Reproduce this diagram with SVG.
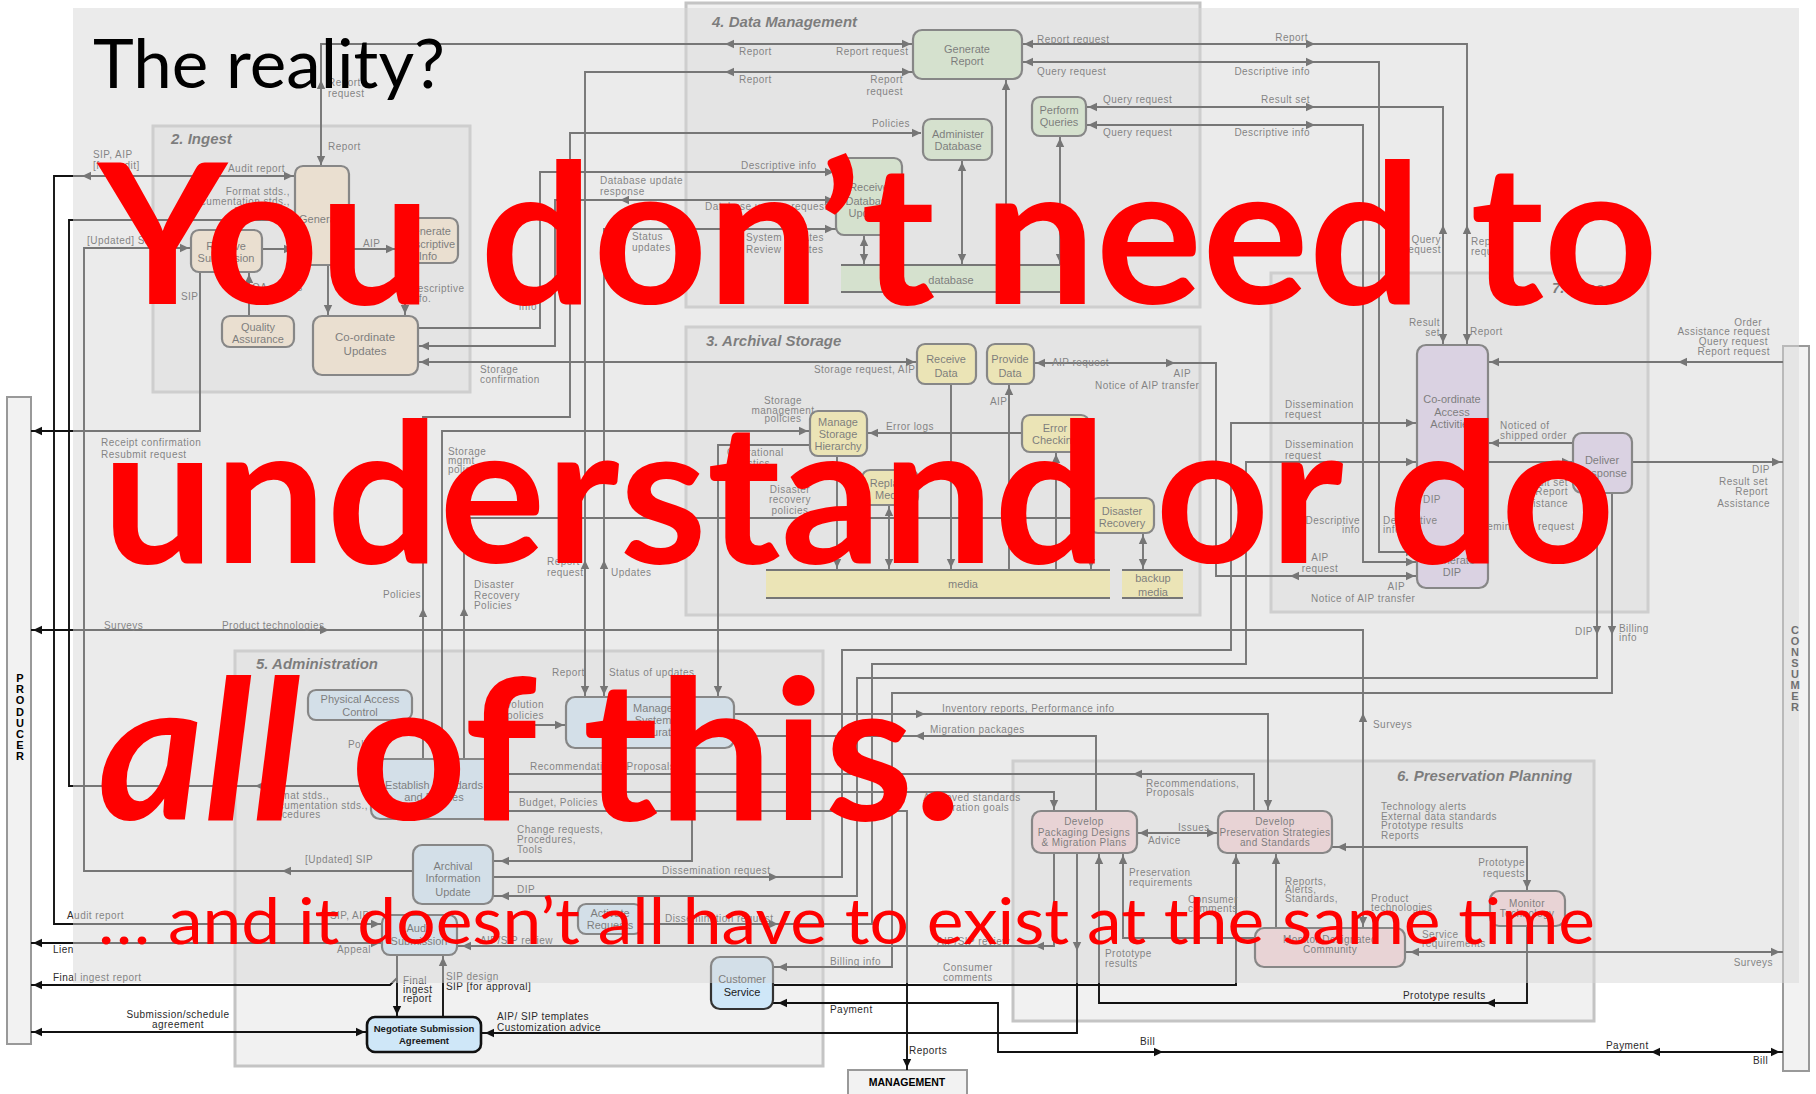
<svg xmlns="http://www.w3.org/2000/svg" width="1816" height="1094" viewBox="0 0 1816 1094">
<defs>
<style>
.ln{fill:none;stroke:#111;stroke-width:1.9}
.nd{stroke:#333;stroke-width:2.2}
.ing{fill:#fce6c8}.dm{fill:#d2ebc4}.as{fill:#fff193}.ad{fill:#cfe7f8}.ac{fill:#dcccec}.pp{fill:#f9ced2}
.pnl{fill:#f1f1f1;stroke:#c4c4c4;stroke-width:3}
.t{font-family:"Liberation Sans",Arial,sans-serif;font-size:10px;letter-spacing:0.45px;fill:#2a2a2a}
.e{text-anchor:end}.m{text-anchor:middle}
.nt{font-family:"Liberation Sans",Arial,sans-serif;font-size:11px;text-anchor:middle;fill:#1a1a1a}
.ttl{font-family:"Liberation Sans",Arial,sans-serif;font-size:15px;font-weight:bold;font-style:italic;fill:#1e1e1e}
.ent{font-family:"Liberation Sans",Arial,sans-serif;font-size:11px;font-weight:bold;text-anchor:middle;fill:#000}
.big{font-family:Lato,"Open Sans",sans-serif;fill:#ff0000}
</style>
<path id="a" d="M0,0 L-9,-4.2 L-9,4.2 Z" fill="#111"/>
</defs>

<rect width="1816" height="1094" fill="#fff"/>

<!-- functional area panels -->
<g id="panels">
<rect class="pnl" x="153" y="126" width="317" height="266"/>
<rect class="pnl" x="686" y="3" width="514" height="304"/>
<rect class="pnl" x="686" y="327" width="514" height="288"/>
<rect class="pnl" x="1271" y="273" width="377" height="339"/>
<rect class="pnl" x="235" y="651" width="588" height="415"/>
<rect class="pnl" x="1013" y="761" width="581" height="260"/>
<text class="ttl" x="171" y="144">2. Ingest</text>
<text class="ttl" x="712" y="27">4. Data Management</text>
<text class="ttl" x="706" y="346">3. Archival Storage</text>
<text class="ttl" x="1552" y="293">7. Access</text>
<text class="ttl" x="256" y="669">5. Administration</text>
<text class="ttl" x="1397" y="781">6. Preservation Planning</text>
</g>

<!-- external entities -->
<g id="producer">
<rect x="7" y="397" width="24" height="647" fill="#f2f2f2" stroke="#999" stroke-width="2"/>
<text class="ent" x="20" y="682"><tspan x="20">P</tspan><tspan x="20" dy="11.2">R</tspan><tspan x="20" dy="11.2">O</tspan><tspan x="20" dy="11.2">D</tspan><tspan x="20" dy="11.2">U</tspan><tspan x="20" dy="11.2">C</tspan><tspan x="20" dy="11.2">E</tspan><tspan x="20" dy="11.2">R</tspan></text>
</g>
<g id="consumer">
<rect x="1783" y="346" width="26" height="725" fill="#f2f2f2" stroke="#999" stroke-width="2"/>
<text class="ent" x="1795" y="634"><tspan x="1795">C</tspan><tspan x="1795" dy="11">O</tspan><tspan x="1795" dy="11">N</tspan><tspan x="1795" dy="11">S</tspan><tspan x="1795" dy="11">U</tspan><tspan x="1795" dy="11">M</tspan><tspan x="1795" dy="11">E</tspan><tspan x="1795" dy="11">R</tspan></text>
</g>
<g id="management">
<rect x="848" y="1070" width="119" height="34" fill="#f2f2f2" stroke="#999" stroke-width="2"/>
<text class="ent" x="907" y="1086" style="font-size:10.5px">MANAGEMENT</text>
</g>

<!-- connectors -->
<g id="connectors">
<polyline class="ln" points="321,166 321,44 913,44"/>
<polyline class="ln" points="585,697 585,72 913,72"/>
<polyline class="ln" points="921,133 570,133 570,417 423,417 423,759"/>
<polyline class="ln" points="418,328 540,328 540,172 836,172"/>
<polyline class="ln" points="418,346 555,346 555,200 836,200"/>
<polyline class="ln" points="418,362 917,362"/>
<polyline class="ln" points="604,697 604,229 836,229"/>
<polyline class="ln" points="1006,265 1006,79"/>
<polyline class="ln" points="962,160 962,265"/>
<polyline class="ln" points="1060,136 1060,265"/>
<polyline class="ln" points="864,235 864,265"/>
<polyline class="ln" points="1022,44 1467,44 1467,345"/>
<polyline class="ln" points="1022,62 1379,62 1379,552 1417,552"/>
<polyline class="ln" points="1086,107 1443,107 1443,345"/>
<polyline class="ln" points="1086,125 1363,125 1363,562 1417,562"/>
<polyline class="ln" points="1034,363 1216,363 1216,576 1417,576"/>
<polyline class="ln" points="951,384 951,570"/>
<polyline class="ln" points="1009,570 1009,384"/>
<polyline class="ln" points="1056,570 1056,452"/>
<polyline class="ln" points="1091,533 1091,570"/>
<polyline class="ln" points="1143,533 1143,570"/>
<polyline class="ln" points="1022,433 867,433"/>
<polyline class="ln" points="837,456 837,570"/>
<polyline class="ln" points="889,505 889,570"/>
<polyline class="ln" points="442,759 442,431 810,431"/>
<polyline class="ln" points="810,445 718,445 718,697"/>
<polyline class="ln" points="464,759 464,518 1090,518"/>
<polyline class="ln" points="295,176 54,176 54,924 382,924"/>
<polyline class="ln" points="295,220 69,220 69,786 371,786"/>
<polyline class="ln" points="191,248 84,248 84,871 413,871"/>
<polyline class="ln" points="200,272 200,431 31,431"/>
<polyline class="ln" points="249,316 249,272"/>
<polyline class="ln" points="328,265 328,316"/>
<polyline class="ln" points="405,263 405,316"/>
<polyline class="ln" points="262,249 295,249"/>
<polyline class="ln" points="349,249 397,249"/>
<polyline class="ln" points="31,630 1363,630 1363,928"/>
<polyline class="ln" points="1417,423 1231,423 1231,650 842,650 842,877 493,877"/>
<polyline class="ln" points="1417,462 1246,462 1246,664 872,664 872,924 642,924"/>
<polyline class="ln" points="1597,493 1597,678 857,678 857,896 493,896"/>
<polyline class="ln" points="1612,493 1612,693 892,693 892,967 773,967"/>
<polyline class="ln" points="1783,362 1488,362"/>
<polyline class="ln" points="1573,443 1488,443"/>
<polyline class="ln" points="1488,462 1573,462"/>
<polyline class="ln" points="1632,462 1783,462"/>
<polyline class="ln" points="1443,542 1443,480"/>
<polyline class="ln" points="1463,480 1463,542"/>
<polyline class="ln" points="734,736 1096,736 1096,811"/>
<polyline class="ln" points="734,714 1268,714 1268,811"/>
<polyline class="ln" points="498,774 1254,774 1254,811"/>
<polyline class="ln" points="498,792 1054,792 1054,811"/>
<polyline class="ln" points="498,811 907,811 907,1070"/>
<polyline class="ln" points="1137,833 1218,833"/>
<polyline class="ln" points="1099,853 1099,1003 1527,1003 1527,926"/>
<polyline class="ln" points="1123,853 1123,938 1255,938"/>
<polyline class="ln" points="1236,853 1236,985 773,985"/>
<polyline class="ln" points="1276,928 1276,853"/>
<polyline class="ln" points="1054,853 1054,946 457,946"/>
<polyline class="ln" points="1077,853 1077,1033 481,1033"/>
<polyline class="ln" points="1527,891 1527,847 1332,847"/>
<polyline class="ln" points="1405,952 1783,952"/>
<polyline class="ln" points="773,1003 998,1003 998,1052 1783,1052"/>
<polyline class="ln" points="382,943 31,943"/>
<polyline class="ln" points="397,955 397,1017"/>
<polyline class="ln" points="397,978 390,985 31,985"/>
<polyline class="ln" points="443,1017 443,955"/>
<polyline class="ln" points="31,1032 367,1032"/>
<polyline class="ln" points="692,748 692,861 493,861"/>
<polyline class="ln" points="485,759 485,725 566,725"/>
<!-- arrowheads -->
<use href="#a" transform="translate(321,80) rotate(270)"/>
<use href="#a" transform="translate(321,165) rotate(90)"/>
<use href="#a" transform="translate(725,44) rotate(180)"/>
<use href="#a" transform="translate(911,44)"/>
<use href="#a" transform="translate(585,560) rotate(270)"/>
<use href="#a" transform="translate(585,695) rotate(90)"/>
<use href="#a" transform="translate(725,72) rotate(180)"/>
<use href="#a" transform="translate(911,72)"/>
<use href="#a" transform="translate(921,133)"/>
<use href="#a" transform="translate(423,608) rotate(270)"/>
<use href="#a" transform="translate(834,172)"/>
<use href="#a" transform="translate(420,346) rotate(180)"/>
<use href="#a" transform="translate(620,200) rotate(180)"/>
<use href="#a" transform="translate(834,200)"/>
<use href="#a" transform="translate(420,362) rotate(180)"/>
<use href="#a" transform="translate(915,362)"/>
<use href="#a" transform="translate(604,560) rotate(270)"/>
<use href="#a" transform="translate(604,695) rotate(90)"/>
<use href="#a" transform="translate(620,229) rotate(180)"/>
<use href="#a" transform="translate(834,229)"/>
<use href="#a" transform="translate(1006,81) rotate(270)"/>
<use href="#a" transform="translate(962,162) rotate(270)"/>
<use href="#a" transform="translate(962,263) rotate(90)"/>
<use href="#a" transform="translate(1060,138) rotate(270)"/>
<use href="#a" transform="translate(1060,263) rotate(90)"/>
<use href="#a" transform="translate(864,237) rotate(270)"/>
<use href="#a" transform="translate(864,263) rotate(90)"/>
<use href="#a" transform="translate(1024,44) rotate(180)"/>
<use href="#a" transform="translate(1315,44)"/>
<use href="#a" transform="translate(1467,225) rotate(270)"/>
<use href="#a" transform="translate(1467,343) rotate(90)"/>
<use href="#a" transform="translate(1024,62) rotate(180)"/>
<use href="#a" transform="translate(1315,62)"/>
<use href="#a" transform="translate(1415,552)"/>
<use href="#a" transform="translate(1088,107) rotate(180)"/>
<use href="#a" transform="translate(1315,107)"/>
<use href="#a" transform="translate(1443,225) rotate(270)"/>
<use href="#a" transform="translate(1443,343) rotate(90)"/>
<use href="#a" transform="translate(1088,125) rotate(180)"/>
<use href="#a" transform="translate(1315,125)"/>
<use href="#a" transform="translate(1415,562)"/>
<use href="#a" transform="translate(1036,363) rotate(180)"/>
<use href="#a" transform="translate(1175,363)"/>
<use href="#a" transform="translate(1290,576) rotate(180)"/>
<use href="#a" transform="translate(1415,576)"/>
<use href="#a" transform="translate(951,568) rotate(90)"/>
<use href="#a" transform="translate(1009,386) rotate(270)"/>
<use href="#a" transform="translate(1056,454) rotate(270)"/>
<use href="#a" transform="translate(1091,568) rotate(90)"/>
<use href="#a" transform="translate(1143,535) rotate(270)"/>
<use href="#a" transform="translate(1143,568) rotate(90)"/>
<use href="#a" transform="translate(869,433) rotate(180)"/>
<use href="#a" transform="translate(837,568) rotate(90)"/>
<use href="#a" transform="translate(889,507) rotate(270)"/>
<use href="#a" transform="translate(889,568) rotate(90)"/>
<use href="#a" transform="translate(808,431)"/>
<use href="#a" transform="translate(718,695) rotate(90)"/>
<use href="#a" transform="translate(464,607) rotate(270)"/>
<use href="#a" transform="translate(1088,518)"/>
<use href="#a" transform="translate(293,176)"/>
<use href="#a" transform="translate(82,176) rotate(180)"/>
<use href="#a" transform="translate(380,924)"/>
<use href="#a" transform="translate(293,220)"/>
<use href="#a" transform="translate(255,786) rotate(180)"/>
<use href="#a" transform="translate(189,248)"/>
<use href="#a" transform="translate(282,871) rotate(180)"/>
<use href="#a" transform="translate(33,431) rotate(180)"/>
<use href="#a" transform="translate(249,274) rotate(270)"/>
<use href="#a" transform="translate(328,314) rotate(90)"/>
<use href="#a" transform="translate(405,314) rotate(90)"/>
<use href="#a" transform="translate(293,249)"/>
<use href="#a" transform="translate(395,249)"/>
<use href="#a" transform="translate(33,630) rotate(180)"/>
<use href="#a" transform="translate(329,630)"/>
<use href="#a" transform="translate(1363,713) rotate(270)"/>
<use href="#a" transform="translate(1363,926) rotate(90)"/>
<use href="#a" transform="translate(1415,423)"/>
<use href="#a" transform="translate(778,877)"/>
<use href="#a" transform="translate(1415,462)"/>
<use href="#a" transform="translate(778,924)"/>
<use href="#a" transform="translate(1597,635) rotate(90)"/>
<use href="#a" transform="translate(500,896) rotate(180)"/>
<use href="#a" transform="translate(1612,635) rotate(90)"/>
<use href="#a" transform="translate(778,967) rotate(180)"/>
<use href="#a" transform="translate(1678,362) rotate(180)"/>
<use href="#a" transform="translate(1490,362) rotate(180)"/>
<use href="#a" transform="translate(1490,443) rotate(180)"/>
<use href="#a" transform="translate(1571,462)"/>
<use href="#a" transform="translate(1781,462)"/>
<use href="#a" transform="translate(1443,483) rotate(270)"/>
<use href="#a" transform="translate(1463,540) rotate(90)"/>
<use href="#a" transform="translate(915,736) rotate(180)"/>
<use href="#a" transform="translate(925,714)"/>
<use href="#a" transform="translate(1268,809) rotate(90)"/>
<use href="#a" transform="translate(1133,774) rotate(180)"/>
<use href="#a" transform="translate(1054,809) rotate(90)"/>
<use href="#a" transform="translate(907,1068) rotate(90)"/>
<use href="#a" transform="translate(1139,833) rotate(180)"/>
<use href="#a" transform="translate(1216,833)"/>
<use href="#a" transform="translate(1099,855) rotate(270)"/>
<use href="#a" transform="translate(1486,1003) rotate(180)"/>
<use href="#a" transform="translate(1123,855) rotate(270)"/>
<use href="#a" transform="translate(1236,855) rotate(270)"/>
<use href="#a" transform="translate(1276,855) rotate(270)"/>
<use href="#a" transform="translate(1035,946) rotate(180)"/>
<use href="#a" transform="translate(462,946) rotate(180)"/>
<use href="#a" transform="translate(1077,951) rotate(90)"/>
<use href="#a" transform="translate(485,1033) rotate(180)"/>
<use href="#a" transform="translate(1527,889) rotate(90)"/>
<use href="#a" transform="translate(1337,847) rotate(180)"/>
<use href="#a" transform="translate(1410,952) rotate(180)"/>
<use href="#a" transform="translate(1780,952)"/>
<use href="#a" transform="translate(778,1003) rotate(180)"/>
<use href="#a" transform="translate(1163,1052)"/>
<use href="#a" transform="translate(1651,1052) rotate(180)"/>
<use href="#a" transform="translate(1780,1052)"/>
<use href="#a" transform="translate(33,943) rotate(180)"/>
<use href="#a" transform="translate(380,943)"/>
<use href="#a" transform="translate(397,1015) rotate(90)"/>
<use href="#a" transform="translate(33,985) rotate(180)"/>
<use href="#a" transform="translate(443,957) rotate(270)"/>
<use href="#a" transform="translate(33,1032) rotate(180)"/>
<use href="#a" transform="translate(365,1032)"/>
<use href="#a" transform="translate(500,861) rotate(180)"/>
<use href="#a" transform="translate(564,725)"/>
</g>

<!-- data stores -->
<g id="database">
<rect x="841" y="265" width="219" height="27" fill="#d2ebc4"/>
<path class="ln" d="M841,265H1060M841,292H1060"/>
<text class="nt" x="951" y="284">database</text>
</g>
<g id="media">
<rect x="766" y="570" width="344" height="28" fill="#fff193"/>
<path class="ln" d="M766,570H1110M766,598H1110"/>
<text class="nt" x="963" y="588">media</text>
</g>
<g id="backup-media">
<rect x="1122" y="570" width="61" height="28" fill="#fff193"/>
<path class="ln" d="M1122,570H1183M1122,598H1183"/>
<text class="nt" x="1153" y="582">backup</text><text class="nt" x="1153" y="596">media</text>
</g>

<!-- Ingest -->
<g id="generate-aip"><rect class="nd ing" x="295" y="166" width="54" height="99" rx="8"/><text class="nt" x="322" y="223">Generate</text></g>
<g id="receive-submission"><rect class="nd ing" x="191" y="230" width="71" height="42" rx="8"/><text class="nt" x="226" y="250">Receive</text><text class="nt" x="226" y="262">Submission</text></g>
<g id="generate-descriptive-info"><rect class="nd ing" x="397" y="218" width="61" height="45" rx="8"/><text class="nt" x="428" y="235">Generate</text><text class="nt" x="428" y="248">Descriptive</text><text class="nt" x="428" y="260">Info</text></g>
<g id="quality-assurance"><rect class="nd ing" x="222" y="316" width="72" height="31" rx="8"/><text class="nt" x="258" y="331">Quality</text><text class="nt" x="258" y="343">Assurance</text></g>
<g id="coordinate-updates"><rect class="nd ing" x="313" y="316" width="105" height="59" rx="9"/><text class="nt" x="365" y="341" style="font-size:11.5px">Co-ordinate</text><text class="nt" x="365" y="355" style="font-size:11.5px">Updates</text></g>

<!-- Data Management -->
<g id="generate-report"><rect class="nd dm" x="913" y="30" width="109" height="49" rx="9"/><text class="nt" x="967" y="53">Generate</text><text class="nt" x="967" y="65">Report</text></g>
<g id="administer-database"><rect class="nd dm" x="923" y="119" width="69" height="41" rx="8"/><text class="nt" x="958" y="138">Administer</text><text class="nt" x="958" y="150">Database</text></g>
<g id="perform-queries"><rect class="nd dm" x="1032" y="97" width="54" height="39" rx="8"/><text class="nt" x="1059" y="114">Perform</text><text class="nt" x="1059" y="126">Queries</text></g>
<g id="receive-database-updates"><rect class="nd dm" x="836" y="158" width="66" height="77" rx="8"/><text class="nt" x="869" y="191">Receive</text><text class="nt" x="869" y="205">Database</text><text class="nt" x="869" y="217">Updates</text></g>

<!-- Archival Storage -->
<g id="receive-data"><rect class="nd as" x="917" y="344" width="59" height="40" rx="8"/><text class="nt" x="946" y="363">Receive</text><text class="nt" x="946" y="377">Data</text></g>
<g id="provide-data"><rect class="nd as" x="987" y="344" width="47" height="40" rx="8"/><text class="nt" x="1010" y="363">Provide</text><text class="nt" x="1010" y="377">Data</text></g>
<g id="manage-storage-hierarchy"><rect class="nd as" x="810" y="411" width="57" height="45" rx="8"/><text class="nt" x="838" y="426">Manage</text><text class="nt" x="838" y="438">Storage</text><text class="nt" x="838" y="450">Hierarchy</text></g>
<g id="error-checking"><rect class="nd as" x="1022" y="415" width="67" height="37" rx="8"/><text class="nt" x="1055" y="432">Error</text><text class="nt" x="1055" y="444">Checking</text></g>
<g id="replace-media"><rect class="nd as" x="862" y="470" width="56" height="35" rx="8"/><text class="nt" x="890" y="487">Replace</text><text class="nt" x="890" y="499">Media</text></g>
<g id="disaster-recovery"><rect class="nd as" x="1090" y="498" width="64" height="35" rx="8"/><text class="nt" x="1122" y="515">Disaster</text><text class="nt" x="1122" y="527">Recovery</text></g>

<!-- Access -->
<g id="coordinate-access-activities"><rect class="nd ac" x="1417" y="345" width="71" height="243" rx="9"/><text class="nt" x="1452" y="403">Co-ordinate</text><text class="nt" x="1452" y="416">Access</text><text class="nt" x="1452" y="428">Activities</text><text class="nt" x="1452" y="564">Generate</text><text class="nt" x="1452" y="576">DIP</text></g>
<g id="deliver-response"><rect class="nd ac" x="1573" y="433" width="59" height="60" rx="9"/><text class="nt" x="1602" y="464">Deliver</text><text class="nt" x="1602" y="477">Response</text></g>

<!-- Administration -->
<g id="physical-access-control"><rect class="nd ad" x="308" y="690" width="104" height="30" rx="8"/><text class="nt" x="360" y="703">Physical Access</text><text class="nt" x="360" y="716">Control</text></g>
<g id="establish-standards"><rect class="nd ad" x="371" y="759" width="127" height="60" rx="9"/><text class="nt" x="434" y="789">Establish Standards</text><text class="nt" x="434" y="801">and Policies</text></g>
<g id="manage-system-configuration"><rect class="nd ad" x="566" y="697" width="168" height="51" rx="9"/><text class="nt" x="653" y="712">Manage</text><text class="nt" x="653" y="724">System</text><text class="nt" x="653" y="736">Configuration</text></g>
<g id="archival-information-update"><rect class="nd ad" x="413" y="845" width="80" height="59" rx="9"/><text class="nt" x="453" y="870">Archival</text><text class="nt" x="453" y="882">Information</text><text class="nt" x="453" y="896">Update</text></g>
<g id="activate-requests"><rect class="nd ad" x="578" y="904" width="64" height="30" rx="8"/><text class="nt" x="610" y="917">Activate</text><text class="nt" x="610" y="929">Requests</text></g>
<g id="audit-submission"><rect class="nd ad" x="382" y="915" width="75" height="40" rx="8"/><text class="nt" x="419" y="932">Audit</text><text class="nt" x="419" y="945">Submission</text></g>
<g id="negotiate-submission-agreement"><rect class="ad" x="367" y="1017" width="114" height="35" rx="8" stroke="#111" stroke-width="2.6"/><text class="nt" x="424" y="1032" style="font-size:9.6px;font-weight:bold">Negotiate Submission</text><text class="nt" x="424" y="1044" style="font-size:9.6px;font-weight:bold">Agreement</text></g>
<g id="customer-service"><rect class="nd ad" x="711" y="957" width="62" height="52" rx="9"/><text class="nt" x="742" y="983">Customer</text><text class="nt" x="742" y="996">Service</text></g>

<!-- Preservation Planning -->
<g id="develop-packaging-designs"><rect class="nd pp" x="1032" y="811" width="105" height="42" rx="9"/><text class="nt" x="1084" y="825" style="font-size:10px;letter-spacing:0.4px">Develop</text><text class="nt" x="1084" y="836" style="font-size:10px;letter-spacing:0.4px">Packaging Designs</text><text class="nt" x="1084" y="846" style="font-size:10px;letter-spacing:0.4px">&amp; Migration Plans</text></g>
<g id="develop-preservation-strategies"><rect class="nd pp" x="1218" y="811" width="114" height="42" rx="9"/><text class="nt" x="1275" y="825" style="font-size:10px;letter-spacing:0.4px">Develop</text><text class="nt" x="1275" y="836" style="font-size:10px;letter-spacing:0.3px">Preservation Strategies</text><text class="nt" x="1275" y="846" style="font-size:10px;letter-spacing:0.4px">and Standards</text></g>
<g id="monitor-designated-community"><rect class="nd pp" x="1255" y="928" width="150" height="39" rx="9"/><text class="nt" x="1330" y="943" style="font-size:10px;letter-spacing:0.4px">Monitor Designated</text><text class="nt" x="1330" y="953" style="font-size:10px;letter-spacing:0.4px">Community</text></g>
<g id="monitor-technology"><rect class="nd pp" x="1490" y="891" width="75" height="35" rx="9"/><text class="nt" x="1527" y="907" style="font-size:10px;letter-spacing:0.4px">Monitor</text><text class="nt" x="1527" y="917" style="font-size:10px;letter-spacing:0.4px">Technology</text></g>

<!-- flow labels -->
<g id="labels" class="t">
<text x="328" y="86">Report</text><text x="328" y="97">request</text>
<text x="328" y="150">Report</text>
<text x="93" y="158">SIP, AIP</text><text x="93" y="169">[for audit]</text>
<text x="228" y="172">Audit report</text>
<text class="e" x="290" y="195">Format stds.,</text><text class="e" x="290" y="205">Documentation stds.,</text><text class="e" x="290" y="215">Procedures</text>
<text x="87" y="244">[Updated] SIP</text>
<text x="363" y="247">AIP</text>
<text x="181" y="300">SIP</text>
<text x="252" y="291">QA results</text>
<text x="410" y="292">Descriptive</text><text x="410" y="302">info.</text>
<text class="e" x="537" y="310">info</text>
<text x="739" y="55">Report</text><text x="836" y="55">Report request</text>
<text x="739" y="83">Report</text><text class="e" x="903" y="83">Report</text><text class="e" x="903" y="95">request</text>
<text class="e" x="910" y="127">Policies</text>
<text x="741" y="169">Descriptive info</text>
<text x="600" y="184">Database update</text><text x="600" y="195">response</text>
<text x="705" y="210">Database update request</text>
<text x="632" y="240">Status</text><text x="632" y="251">updates</text>
<text x="746" y="241">System updates</text><text x="746" y="253">Review updates</text>
<text x="480" y="373">Storage</text><text x="480" y="383">confirmation</text>
<text x="1037" y="43">Report request</text><text class="e" x="1308" y="41">Report</text>
<text x="1037" y="75">Query request</text><text class="e" x="1310" y="75">Descriptive info</text>
<text x="1103" y="103">Query request</text><text class="e" x="1310" y="103">Result set</text>
<text x="1103" y="136">Query request</text><text class="e" x="1310" y="136">Descriptive info</text>
<text x="1052" y="366">AIP request</text>
<text class="e" x="1441" y="243">Query</text><text class="e" x="1441" y="253">request</text>
<text x="1471" y="245">Report</text><text x="1471" y="255">request</text>
<text class="e" x="1440" y="326">Result</text><text class="e" x="1440" y="336">set</text>
<text x="1470" y="335">Report</text>
<text class="e" x="1762" y="326">Order</text><text class="e" x="1770" y="335">Assistance request</text><text class="e" x="1768" y="345">Query request</text><text class="e" x="1770" y="355">Report request</text>
<text x="101" y="446">Receipt confirmation</text><text x="101" y="458">Resubmit request</text>
<text class="e" x="421" y="598">Policies</text>
<text x="104" y="629">Surveys</text><text x="222" y="629">Product technologies</text>
<text x="448" y="455">Storage</text><text x="448" y="464">mgmt</text><text x="448" y="473">policies</text>
<text x="814" y="373">Storage request, AIP</text>
<text class="m" x="783" y="404">Storage</text><text class="m" x="783" y="414">management</text><text class="m" x="783" y="422">policies</text>
<text x="886" y="430">Error logs</text>
<text x="727" y="456">Operational</text><text x="727" y="467">statistics</text>
<text class="m" x="790" y="493">Disaster</text><text class="m" x="790" y="503">recovery</text><text class="m" x="790" y="514">policies</text>
<text x="547" y="565">Report</text><text x="547" y="576">request</text>
<text x="611" y="576">Updates</text>
<text x="474" y="588">Disaster</text><text x="474" y="599">Recovery</text><text x="474" y="609">Policies</text>
<text x="552" y="676">Report</text><text x="609" y="676">Status of updates</text>
<text class="e" x="544" y="708">Evolution</text><text class="e" x="544" y="719">policies</text>
<text class="e" x="1191" y="377">AIP</text><text x="1095" y="389">Notice of AIP transfer</text>
<text x="990" y="405">AIP</text>
<text x="1285" y="408">Dissemination</text><text x="1285" y="418">request</text>
<text x="1285" y="448">Dissemination</text><text x="1285" y="459">request</text>
<text class="e" x="1360" y="524">Descriptive</text><text class="e" x="1360" y="533">info</text>
<text class="m" x="1320" y="561">AIP</text><text class="m" x="1320" y="572">request</text>
<text x="1311" y="602">Notice of AIP transfer</text>
<text class="e" x="1405" y="590">AIP</text>
<text x="942" y="712">Inventory reports, Performance info</text>
<text x="930" y="733">Migration packages</text>
<text x="1500" y="429">Noticed of</text><text x="1500" y="439">shipped order</text>
<text class="e" x="1568" y="486">Result set</text><text class="e" x="1568" y="495">Report</text><text class="e" x="1568" y="507">Assistance</text>
<text x="1466" y="530">Dissemination request</text>
<text class="e" x="1441" y="503">DIP</text>
<text class="e" x="1770" y="473">DIP</text><text class="e" x="1768" y="485">Result set</text><text class="e" x="1768" y="495">Report</text><text class="e" x="1770" y="507">Assistance</text>
<text x="1383" y="524">Descriptive</text><text x="1383" y="533">info</text>
<text class="e" x="1593" y="635">DIP</text><text x="1619" y="632">Billing</text><text x="1619" y="641">info</text>
<text x="1373" y="728">Surveys</text>
<text x="348" y="748">Policies</text>
<text x="265" y="799">Format stds.,</text><text x="265" y="809">Documentation stds.,</text><text x="265" y="818">Procedures</text>
<text x="305" y="863">[Updated] SIP</text>
<text x="67" y="919">Audit report</text><text x="330" y="919">SIP, AIP</text>
<text x="53" y="953">Lien</text><text x="337" y="953">Appeal</text>
<text x="53" y="981">Final ingest report</text>
<text x="403" y="984">Final</text><text x="403" y="993">ingest</text><text x="403" y="1002">report</text>
<text x="446" y="980">SIP design</text><text x="446" y="990">SIP [for approval]</text>
<text class="m" x="178" y="1018">Submission/schedule</text><text class="m" x="178" y="1028">agreement</text>
<text x="530" y="770">Recommendations, Proposals</text>
<text x="519" y="806">Budget, Policies</text>
<text x="517" y="833">Change requests,</text><text x="517" y="843">Procedures,</text><text x="517" y="853">Tools</text>
<text x="662" y="874">Dissemination request</text>
<text x="517" y="893">DIP</text>
<text x="665" y="922">Dissemination request</text>
<text x="480" y="944">AIP/SIP review</text>
<text x="830" y="965">Billing info</text>
<text x="830" y="1013">Payment</text>
<text x="497" y="1020">AIP/ SIP templates</text><text x="497" y="1031">Customization advice</text>
<text x="1146" y="787">Recommendations,</text><text x="1146" y="796">Proposals</text>
<text class="m" x="972" y="801">Approved standards</text><text class="m" x="972" y="811">Migration goals</text>
<text x="1178" y="831">Issues</text><text x="1148" y="844">Advice</text>
<text x="1129" y="876">Preservation</text><text x="1129" y="886">requirements</text>
<text x="1285" y="885">Reports,</text><text x="1285" y="893">Alerts,</text><text x="1285" y="902">Standards,</text>
<text x="1188" y="903">Consumer</text><text x="1188" y="912">comments</text>
<text x="937" y="945">AIP/SIP review</text>
<text x="1105" y="957">Prototype</text><text x="1105" y="967">results</text>
<text x="943" y="971">Consumer</text><text x="943" y="981">comments</text>
<text x="909" y="1054">Reports</text>
<text x="1140" y="1045">Bill</text>
<text x="1381" y="810">Technology alerts</text><text x="1381" y="820">External data standards</text><text x="1381" y="829">Prototype results</text><text x="1381" y="839">Reports</text>
<text class="e" x="1525" y="866">Prototype</text><text class="e" x="1525" y="877">requests</text>
<text x="1371" y="902">Product</text><text x="1371" y="911">technologies</text>
<text x="1422" y="938">Service</text><text x="1422" y="947">requirements</text>
<text class="e" x="1773" y="966">Surveys</text>
<text x="1403" y="999">Prototype results</text>
<text x="1606" y="1049">Payment</text>
<text x="1753" y="1064">Bill</text>
</g>

<!-- wash over the model -->
<rect id="wash" x="73" y="8" width="1726" height="975" fill="#d8d8d8" fill-opacity="0.51"/>

<!-- slide text -->
<g id="slide-text">
<text x="93" y="88" font-family="Lato,'Open Sans',sans-serif" font-size="68" fill="#000" textLength="352" lengthAdjust="spacingAndGlyphs">The reality?</text>
<text class="big" x="98" y="304" font-size="196" font-weight="bold" textLength="1560" lengthAdjust="spacingAndGlyphs">You don’t need to</text>
<text class="big" x="102" y="563" font-size="196" font-weight="bold" textLength="1513" lengthAdjust="spacingAndGlyphs">understand or do</text>
<text class="big" x="98" y="820" font-size="196" font-weight="bold" textLength="864" lengthAdjust="spacingAndGlyphs"><tspan font-style="italic">all</tspan> of this.</text>
<text class="big" x="98" y="944" font-size="64" textLength="1497" lengthAdjust="spacingAndGlyphs">… and it doesn’t all have to exist at the same time</text>
</g>
</svg>
